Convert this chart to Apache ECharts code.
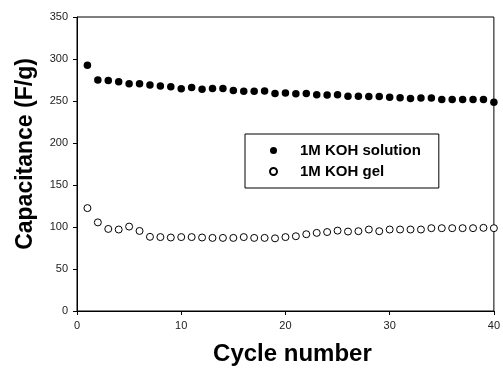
<!DOCTYPE html>
<html><head><meta charset="utf-8">
<script src="https://cdn.jsdelivr.net/npm/echarts@6/dist/echarts.min.js"></script>
<style>html,body{margin:0;padding:0;background:#fff}#c{width:503px;height:371px}</style>
</head><body><div id="c"></div>
<script>
const cycles = [1,2,3,4,5,6,7,8,9,10,11,12,13,14,15,16,17,18,19,20,21,22,23,24,25,26,27,28,29,30,31,32,33,34,35,36,37,38,39,40];
const solution = [292.5,275,274.5,273,270.5,270.5,269,268,267,264.5,266,264,265,265,262.5,261.5,261.5,262,259,259.5,258.5,259,257.5,257,257.5,255.7,255.7,255.3,255.5,254.6,254,253,253.5,253.5,251.8,251.8,251.8,251.8,251.8,248.5];
const gel = [122.5,105.5,97.7,97,100.5,95.3,88.3,88,87.5,88,88,87.5,87,87,87,88,87,87,86.5,88,89,91.4,93,94,95.7,94.6,95,97,95,97,97,97,97,98.6,98.6,98.6,98.6,98.6,99,98.6];
const seriesNames = ['1M KOH solution','1M KOH gel'];
const xTitle = 'Cycle number';
const yTitle = 'Capacitance (F/g)';

const font = 'Liberation Sans, Arial, sans-serif';
const chart = echarts.init(document.getElementById('c'), null, {renderer:'canvas'});
chart.setOption({
  animation:false,
  grid:{left:77,right:4,top:17,bottom:58,show:true,borderColor:'#000',borderWidth:1},
  legend:{
    left:245, top:134, orient:'vertical', selectedMode:false,
    backgroundColor:'#fff', borderColor:'#000', borderWidth:1,
    padding:[9,18,9,24], itemGap:6, itemWidth:7, itemHeight:7,
    textStyle:{fontFamily:font,fontWeight:'bold',fontSize:15,color:'#000',padding:[0,0,0,18]},
    data:seriesNames
  },
  xAxis:{
    type:'value', min:0, max:40, interval:10,
    name:xTitle, nameLocation:'middle', nameGap:31,
    nameTextStyle:{fontFamily:font,fontWeight:'bold',fontSize:24,color:'#000',padding:[0,0,0,14]},
    axisLine:{lineStyle:{color:'#000',width:1}},
    axisTick:{show:true,inside:false,length:4,lineStyle:{color:'#000'}},
    axisLabel:{fontFamily:font,fontSize:11,color:'#222',margin:9},
    splitLine:{show:false}
  },
  yAxis:{
    type:'value', min:0, max:350, interval:50,
    name:yTitle, nameLocation:'middle', nameGap:40,
    nameTextStyle:{fontFamily:font,fontWeight:'bold',fontSize:23,color:'#000',padding:[0,0,0,20]},
    axisLine:{show:true,lineStyle:{color:'#000',width:1}},
    axisTick:{show:true,inside:false,length:4,lineStyle:{color:'#000'}},
    axisLabel:{fontFamily:font,fontSize:11,color:'#222',margin:9},
    splitLine:{show:false}
  },
  series:[
    {name:seriesNames[0],type:'scatter',clip:false,symbol:'circle',symbolSize:7.5,
     itemStyle:{color:'#000',opacity:1},data:cycles.map((c,i)=>[c,solution[i]])},
    {name:seriesNames[1],type:'scatter',clip:false,symbol:'circle',symbolSize:7,
     itemStyle:{color:'#fff',borderColor:'#000',borderWidth:1,opacity:1},data:cycles.map((c,i)=>[c,gel[i]])}
  ]
});
</script></body></html>
